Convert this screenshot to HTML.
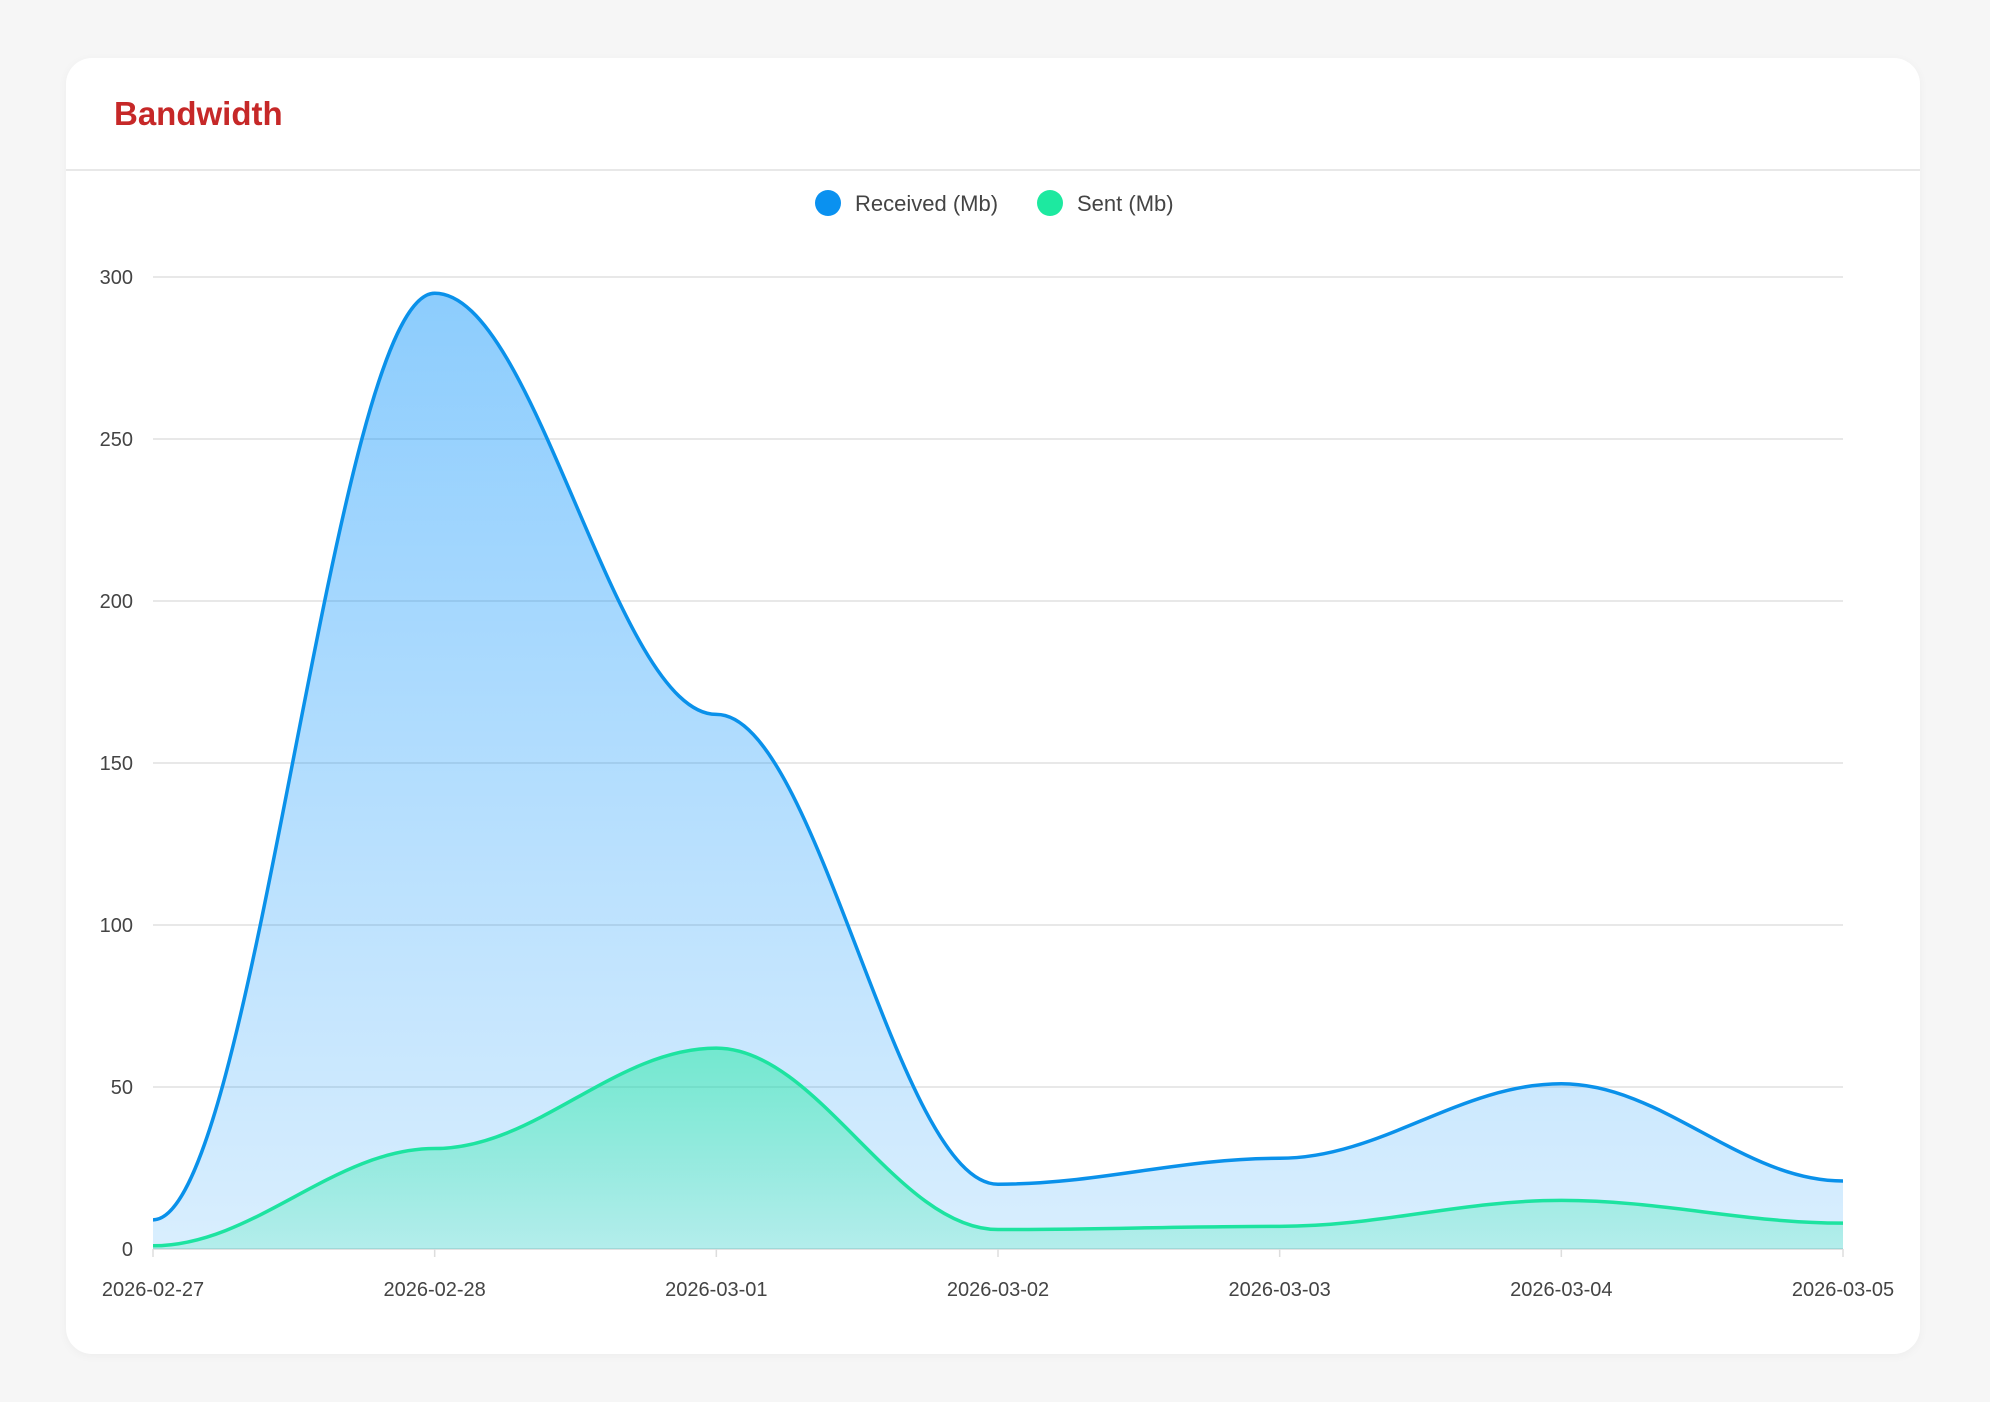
<!DOCTYPE html>
<html><head><meta charset="utf-8"><style>
html,body{margin:0;padding:0;background:#f6f6f6;width:1990px;height:1402px;overflow:hidden;font-family:"Liberation Sans",sans-serif}
.card{position:absolute;left:66px;top:58px;width:1854px;height:1296px;background:#fff;border-radius:26px;box-shadow:0 2px 10px rgba(0,0,0,0.04)}
.title{position:absolute;left:48px;top:37px;font-size:33px;font-weight:bold;color:#c62828}
.hr{position:absolute;left:0;right:0;top:111px;height:2px;background:#e8e8e8}
svg{position:absolute;left:0;top:0}
</style></head><body>
<div class="card"><div class="title">Bandwidth</div><div class="hr"></div></div>
<svg id="s" width="1990" height="1402" font-family="Liberation Sans, sans-serif">
<defs>
<linearGradient id="gb" x1="0" y1="0" x2="0" y2="1"><stop offset="0" stop-color="#008ffb" stop-opacity="0.45"/><stop offset="1" stop-color="#008ffb" stop-opacity="0.15"/></linearGradient>
<linearGradient id="gg" x1="0" y1="0" x2="0" y2="1"><stop offset="0" stop-color="#1de9a0" stop-opacity="0.5"/><stop offset="1" stop-color="#1de9a0" stop-opacity="0.2"/></linearGradient>
</defs>
<circle cx="828" cy="203" r="13" fill="#0a91f0"/><text x="855" y="211" font-size="22" fill="#444">Received (Mb)</text>
<circle cx="1050" cy="203" r="13" fill="#1de9a0"/><text x="1077" y="211" font-size="22" fill="#444">Sent (Mb)</text>
<g id="grid"></g>
<path id="ab" fill="url(#gb)"/><path id="ag" fill="url(#gg)"/>
<path id="lb" fill="none" stroke="#0a91ea" stroke-width="3.5"/><path id="lg" fill="none" stroke="#1de3a0" stroke-width="3.5"/>
<g id="lab"></g>
</svg>
<script>
var x0=153,x1=1843,y0=1249,yt=277,N=6;
function X(i){return x0+(x1-x0)*i/N}function Y(v){return y0-(y0-yt)*v/300}
var g='',l='';
for(var k=0;k<=6;k++){var y=Y(k*50);g+='<line x1="'+x0+'" x2="'+x1+'" y1="'+y+'" y2="'+y+'" stroke="#e0e0e0" stroke-width="1.5"/>';
l+='<text x="133" y="'+(y+7)+'" font-size="20" fill="#444" text-anchor="end">'+(k*50)+'</text>';}
var d=['2026-02-27','2026-02-28','2026-03-01','2026-03-02','2026-03-03','2026-03-04','2026-03-05'];
for(var i=0;i<7;i++){g+='<line x1="'+X(i)+'" x2="'+X(i)+'" y1="'+y0+'" y2="'+(y0+8)+'" stroke="#ddd" stroke-width="1.5"/>';
l+='<text x="'+X(i)+'" y="1296" font-size="20" fill="#444" text-anchor="middle">'+d[i]+'</text>';}
g+='<line x1="'+x0+'" x2="'+x1+'" y1="'+y0+'" y2="'+y0+'" stroke="#ddd" stroke-width="1.5"/>';
document.getElementById('grid').innerHTML=g;document.getElementById('lab').innerHTML=l;
function sm(v){var n=v.length,px=[],py=[];for(var i=0;i<n;i++){px.push(X(i));py.push(Y(v[i]));}
var s='M'+px[0]+','+py[0];
for(i=0;i<n-1;i++){var h=(px[i+1]-px[i])*0.36;s+=' C'+(px[i]+h)+','+py[i]+' '+(px[i+1]-h)+','+py[i+1]+' '+px[i+1]+','+py[i+1];}
return s;}
var rb=sm([9,295,165,20,28,51,21]),rg=sm([1,31,62,6,7,15,8]);
document.getElementById('lb').setAttribute('d',rb);document.getElementById('lg').setAttribute('d',rg);
document.getElementById('ab').setAttribute('d',rb+' L'+x1+','+y0+' L'+x0+','+y0+'Z');
document.getElementById('ag').setAttribute('d',rg+' L'+x1+','+y0+' L'+x0+','+y0+'Z');
</script>
</body></html>
